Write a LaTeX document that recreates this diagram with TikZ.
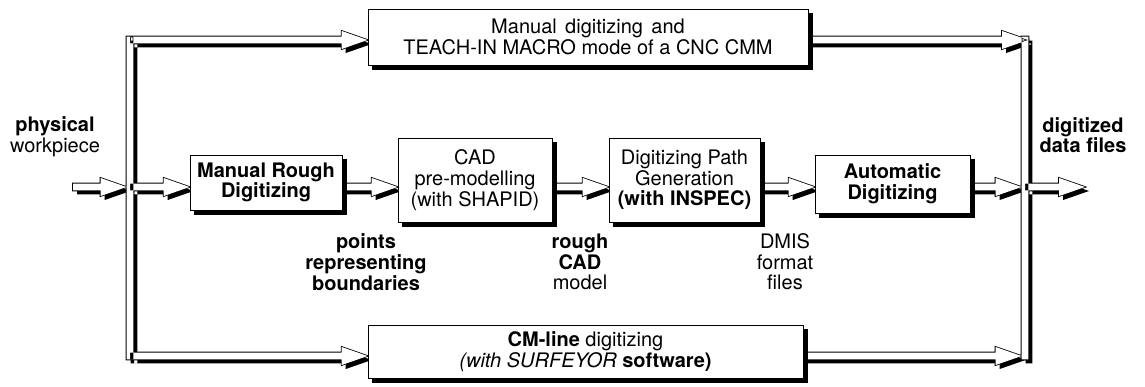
\documentclass[tikz,border=0pt]{standalone}
\usepackage{fontspec}
\setmainfont{TeX Gyre Heros}
\usetikzlibrary{calc}
\pgfdeclarelayer{back}
\pgfdeclarelayer{bg}
\pgfsetlayers{back,bg,main}
\newcommand\harrowpath[2]{let \p1=(#1),\p2=(#2) in (\x1,\y1+2.6pt) -- (\x2-19.5pt,\y1+2.6pt) -- (\x2-19.5pt,\y1+6.8pt) -- (\x2,\y1) -- (\x2-19.5pt,\y1-6.8pt) -- (\x2-19.5pt,\y1-2.6pt) -- (\x1,\y1-2.6pt) -- cycle }
\newcommand\vbuspath[2]{let \p1=(#1),\p2=(#2) in (\x1-2.6pt,\y1+2.6pt) rectangle (\x1+2.6pt,\y2-2.6pt) }
\newcommand\allpipes{%
  \vbuspath{L1}{L3}
  \vbuspath{R1}{R3}
  \harrowpath{in}{L2w}
  \harrowpath{L1}{top.west |- L1}
  \harrowpath{L2}{mr.west |- L2}
  \harrowpath{L3}{bot.west |- L3}
  \harrowpath{mr.east |- L2}{cad.west |- L2}
  \harrowpath{cad.east |- L2}{dpg.west |- L2}
  \harrowpath{dpg.east |- L2}{auto.west |- L2}
  \harrowpath{auto.east |- L2}{R2w}
  \harrowpath{top.east |- R1}{R1e}
  \harrowpath{bot.east |- R3}{R3w}
  \harrowpath{R2}{out}
}
\newcommand\boxshadow[1]{\fill[black] ($(#1.south west)+(3.5pt,-3.5pt)$) rectangle ($(#1.north east)+(3.5pt,-3.5pt)$);}
\tikzset{
  box/.style={draw, line width=0.6pt, fill=white, inner sep=0pt, align=center},
  lbl/.style={align=center, inner sep=0pt},
}
\begin{document}
\begin{tikzpicture}[x=0.75pt,y=-0.75pt]
\fontsize{15}{15.5}\selectfont
\begin{pgfonlayer}{back}
\fill[white] (0,0) rectangle (1145,386);
\end{pgfonlayer}
\useasboundingbox (0,0) rectangle (1145,386);
% bus coordinates
\coordinate (L1) at (130,40);
\coordinate (L2) at (130,187);
\coordinate (L3) at (130,356);
\coordinate (R1) at (1025,40);
\coordinate (R2) at (1025,187);
\coordinate (R3) at (1025,356);
\coordinate (L2w) at (126.5,187);
\coordinate (R2w) at (1021.5,187);
\coordinate (R3w) at (1021.5,356);
\coordinate (R1e) at (1028,40);
\coordinate (in) at (73,187);
\coordinate (out) at (1085,187);
% boxes
\node[box, minimum width=330pt, minimum height=42pt] (top) at (588,37)
  {\spaceskip=0.42em Manual digitizing and\\TEACH-IN MACRO mode of a CNC CMM};
\node[box, minimum width=114pt, minimum height=41.25pt] (mr) at (266,182.5)
  {\textbf{Manual Rough}\\\textbf{Digitizing}};
\node[box, minimum width=115.5pt, minimum height=63pt] (cad) at (475,180)
  {CAD\\pre-modelling\\(with SHAPID)};
\node[box, minimum width=113.25pt, minimum height=63pt] (dpg) at (684.5,180)
  {Digitizing Path\\Generation\\\textbf{(with INSPEC)}};
\node[box, minimum width=116.25pt, minimum height=43.5pt] (auto) at (892.5,184)
  {\textbf{Automatic}\\\textbf{Digitizing}};
\node[box, minimum width=326.25pt, minimum height=39.75pt] (bot) at (585.5,351.5)
  {\textbf{CM-line} digitizing\\\textit{(with SURFEYOR} \textbf{software)}};
% labels
\node[lbl] (phys) at (55,137) {\textbf{physical}\\workpiece};
\node[lbl] (dig) at (1083,135) {\textbf{digitized}\\\textbf{data files}};
\node[lbl] (pts) at (366,262) {\textbf{points}\\\textbf{representing}\\\textbf{boundaries}};
\node[lbl] (rough) at (580,262) {\textbf{rough}\\\textbf{CAD}\\model};
\node[lbl] (dmis) at (785,262) {DMIS\\format\\files};
% pipes and shadows
\begin{pgfonlayer}{bg}
\fill[black, transform canvas={shift={(3pt,-3pt)}}] \allpipes;
\draw[line width=1.2pt] \allpipes;
\fill[white] \allpipes;
\boxshadow{top}
\boxshadow{mr}
\boxshadow{cad}
\boxshadow{dpg}
\boxshadow{auto}
\boxshadow{bot}
\end{pgfonlayer}
\end{tikzpicture}
\end{document}
